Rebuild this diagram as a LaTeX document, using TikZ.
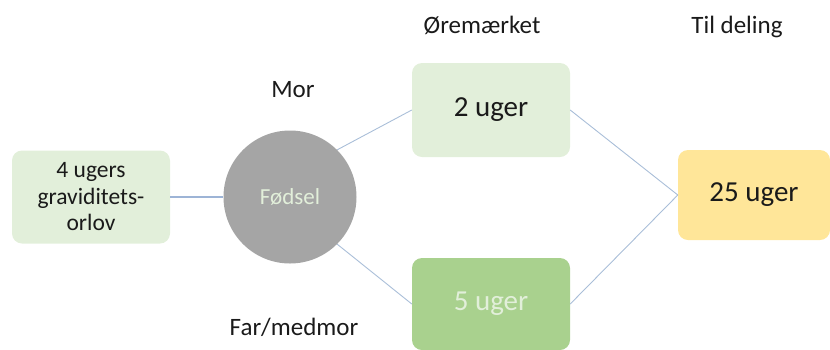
\documentclass[tikz,border=0pt]{standalone}
\usepackage{fontspec}
\setmainfont{Carlito}
\definecolor{palegreen}{HTML}{E2EFDA}
\definecolor{midgreen}{HTML}{A9D18E}
\definecolor{paleyellow}{HTML}{FFE699}
\definecolor{circlegray}{HTML}{A5A5A5}
\definecolor{linkblue}{HTML}{A9BED8}
\definecolor{strongblue}{HTML}{9DB4D6}
\definecolor{darktext}{HTML}{1A1A1A}
\begin{document}
\begin{tikzpicture}[x=1pt,y=-1pt,
  box/.style={rounded corners=10pt,minimum width=158pt,inner sep=0pt,text=darktext,align=center},
  bigtext/.style={font=\fontsize{29}{34}\selectfont},
  link/.style={draw=linkblue,line width=0.9pt},
  heading/.style={text=darktext,anchor=base,inner sep=0pt,font=\fontsize{25}{30}\selectfont}]
\useasboundingbox (0,0) rectangle (830,349);
\clip (0,0) rectangle (830,349);
% left box: pregnancy leave
\node[box,fill=palegreen,minimum height=93pt,font=\fontsize{23.5}{26.5}\selectfont] (preg) at (91,197) {4 ugers\\graviditets-\\orlov};
% birth
\node[circle,fill=circlegray,minimum size=133pt,inner sep=0pt,text=palegreen,font=\fontsize{23}{27}\selectfont] (birth) at (290,197) {Fødsel};
% earmarked periods
\node[box,fill=palegreen,minimum height=94pt,bigtext] (mor) at (491,110) {2 uger};
\node[box,fill=midgreen,minimum height=92pt,text=palegreen,bigtext] (far) at (491,304) {5 uger};
% shared period
\node[box,fill=paleyellow,minimum width=152pt,minimum height=90pt,bigtext] (shared) at (754,195) {25 uger};
% connectors
\draw[draw=strongblue,line width=1.6pt] (preg.east) -- (birth.west);
\draw[link] (birth.north east) -- (mor.west);
\draw[link] (birth.south east) -- (far.west);
\draw[link] (mor.east) -- (shared.west);
\draw[link] (far.east) -- (shared.west);
% labels
\node[heading] (lmor) at (293,97) {Mor};
\node[heading] (lfar) at (294,335) {Far/medmor};
\node[heading] (lear) at (482,33) {Øremærket};
\node[heading] (lshare) at (737,33) {Til deling};
\end{tikzpicture}
\end{document}
